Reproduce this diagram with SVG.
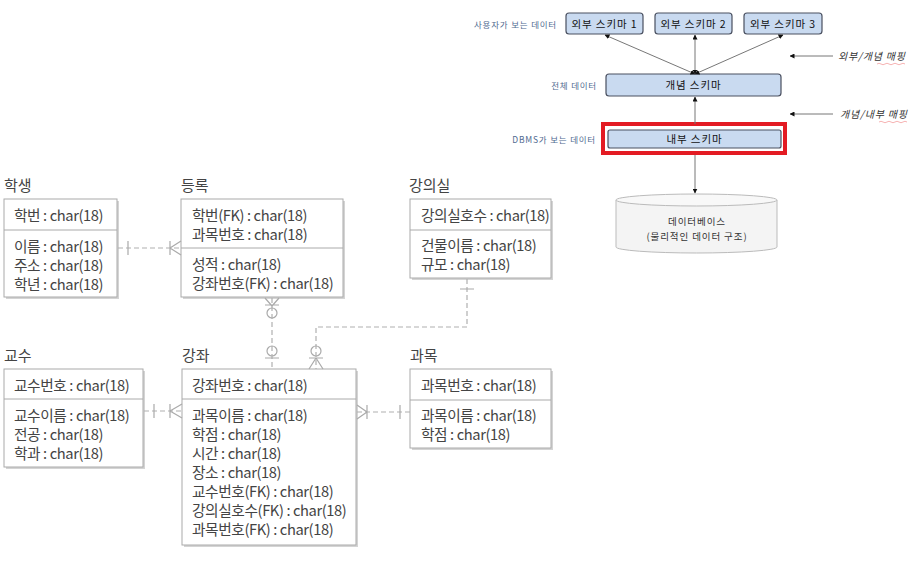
<svg xmlns="http://www.w3.org/2000/svg" width="921" height="562" viewBox="0 0 921 562">
<defs>
<marker id="ah" viewBox="0 0 10 10" refX="9" refY="5" markerWidth="5" markerHeight="5" orient="auto-start-reverse">
<path d="M0,0 L10,5 L0,10 z" fill="#111"/>
</marker>
<style>
.sbox{fill:#c9daf0;stroke:#4a5060;stroke-width:1.2}
.stxt{font-family:"Noto Sans CJK KR","Noto Sans",sans-serif;font-size:10.5px;font-weight:400;fill:#111;text-anchor:middle;letter-spacing:0.9px}
.lbl{font-family:"Noto Sans CJK KR","Noto Sans",sans-serif;font-size:8.5px;fill:#4f6a90;text-anchor:end;letter-spacing:0.8px}
.map{font-family:"Noto Sans CJK KR","Noto Sans",sans-serif;font-size:10px;fill:#333;font-style:italic;letter-spacing:0.8px}
.arr{stroke:#777;stroke-width:1;fill:none}
.ebox{fill:#fff;stroke:#aaa;stroke-width:1}
.shadow{fill:#d4d4d4}
.sep{stroke:#aaa;stroke-width:1}
.ttl{font-family:"Noto Sans CJK KR","Noto Sans",sans-serif;font-size:15px;fill:#444}
.at{font-family:"Noto Sans CJK KR","Noto Sans",sans-serif;font-size:14.7px;fill:#444;letter-spacing:-0.4px}
.rel{stroke:#b0b0b0;stroke-width:1.2;fill:none;stroke-dasharray:5 3}
.sym{stroke:#aaa;stroke-width:1.2;fill:none}
</style>
</defs>
<rect width="921" height="562" fill="#fff"/>

<!-- top schema diagram -->
<g id="ext1"><rect class="sbox" x="566" y="13" width="77" height="21" rx="3"/><text class="stxt" x="604.5" y="27.5">외부 스키마 1</text></g>
<g id="ext2"><rect class="sbox" x="655" y="13" width="77" height="21" rx="3"/><text class="stxt" x="693.5" y="27.5">외부 스키마 2</text></g>
<g id="ext3"><rect class="sbox" x="744" y="13" width="78" height="21" rx="3"/><text class="stxt" x="783" y="27.5">외부 스키마 3</text></g>
<g id="concept"><rect class="sbox" x="606" y="74" width="175" height="22" rx="3"/><text class="stxt" x="693.5" y="89">개념 스키마</text></g>
<g id="internal"><rect x="603" y="124" width="182" height="29" fill="none" stroke="#e31b23" stroke-width="4"/><rect class="sbox" x="608" y="130" width="173" height="18" rx="2"/><text class="stxt" x="694.5" y="143">내부 스키마</text></g>
<g id="db">
<path d="M616,200 L616,247 A80.5,6 0 0 0 777,247 L777,200" fill="#f4f4f4" stroke="#bbb" stroke-width="1"/>
<ellipse cx="696.5" cy="200" rx="80.5" ry="6" fill="#f8f8f8" stroke="#bbb" stroke-width="1"/>
<text class="stxt" x="697" y="225" style="font-size:9.5px;fill:#333">데이터베이스</text>
<text class="stxt" x="697" y="240" style="font-size:9.5px;fill:#333">(물리적인 데이터 구조)</text>
</g>
<g id="labels">
<text class="lbl" x="557" y="28">사용자가 보는 데이터</text>
<text class="lbl" x="597" y="89">전체 데이터</text>
<text class="lbl" x="596" y="143">DBMS가 보는 데이터</text>
<text class="map" x="838" y="60">외부/개념 매핑</text>
<text class="map" x="840" y="118">개념/내부 매핑</text>
<path d="M877,64 q2,-1.5 4,0 t4,0 t4,0 t4,0 t4,0 t4,0 t4,0" stroke="#f4a0a0" stroke-width="0.8" fill="none"/>
<path d="M879,122 q2,-1.5 4,0 t4,0 t4,0 t4,0 t4,0 t4,0 t4,0" stroke="#f4a0a0" stroke-width="0.8" fill="none"/>
</g>
<g id="schema-connectors">
<line class="arr" x1="695" y1="74" x2="605" y2="35" marker-start="url(#ah)" marker-end="url(#ah)"/>
<line class="arr" x1="695" y1="74" x2="695" y2="35" marker-start="url(#ah)" marker-end="url(#ah)"/>
<line class="arr" x1="695" y1="74" x2="783" y2="35" marker-start="url(#ah)" marker-end="url(#ah)"/>
<line class="arr" x1="695" y1="124" x2="695" y2="97" marker-end="url(#ah)"/>
<line class="arr" x1="695" y1="155" x2="695" y2="193" marker-end="url(#ah)"/>
<line class="arr" x1="833" y1="56" x2="790" y2="56" marker-end="url(#ah)"/>
<line class="arr" x1="833" y1="114" x2="790" y2="114" marker-end="url(#ah)"/>
</g>

<!-- ER diagram -->
<g id="student">
<text class="ttl" x="4" y="191">학생</text>
<rect class="shadow" x="6" y="201" width="113" height="98"/>
<rect class="ebox" x="4" y="199" width="113" height="98"/>
<line class="sep" x1="4" y1="230" x2="117" y2="230"/>
<text class="at" x="14" y="221">학번 : char(18)</text>
<text class="at" x="14" y="252">이름 : char(18)</text>
<text class="at" x="14" y="271">주소 : char(18)</text>
<text class="at" x="14" y="290">학년 : char(18)</text>
</g>
<g id="enroll">
<text class="ttl" x="181" y="191">등록</text>
<rect class="shadow" x="183" y="201" width="162" height="98"/>
<rect class="ebox" x="181" y="199" width="162" height="98"/>
<line class="sep" x1="181" y1="248" x2="343" y2="248"/>
<text class="at" x="192" y="221">학번(FK) : char(18)</text>
<text class="at" x="192" y="240">과목번호 : char(18)</text>
<text class="at" x="192" y="270">성적 : char(18)</text>
<text class="at" x="192" y="289">강좌번호(FK) : char(18)</text>
</g>
<g id="classroom">
<text class="ttl" x="409" y="191">강의실</text>
<rect class="shadow" x="412" y="201" width="141" height="79"/>
<rect class="ebox" x="410" y="199" width="141" height="79"/>
<line class="sep" x1="410" y1="230" x2="551" y2="230"/>
<text class="at" x="421" y="221">강의실호수 : char(18)</text>
<text class="at" x="421" y="251">건물이름 : char(18)</text>
<text class="at" x="421" y="270">규모 : char(18)</text>
</g>
<g id="professor">
<text class="ttl" x="4" y="361">교수</text>
<rect class="shadow" x="6" y="371" width="139" height="98"/>
<rect class="ebox" x="4" y="369" width="139" height="98"/>
<line class="sep" x1="4" y1="399" x2="143" y2="399"/>
<text class="at" x="14" y="391">교수번호 : char(18)</text>
<text class="at" x="14" y="421">교수이름 : char(18)</text>
<text class="at" x="14" y="440">전공 : char(18)</text>
<text class="at" x="14" y="459">학과 : char(18)</text>
</g>
<g id="course">
<text class="ttl" x="182" y="361">강좌</text>
<rect class="shadow" x="184" y="371" width="174" height="176"/>
<rect class="ebox" x="182" y="369" width="174" height="176"/>
<line class="sep" x1="182" y1="399" x2="356" y2="399"/>
<text class="at" x="192" y="391">강좌번호 : char(18)</text>
<text class="at" x="192" y="421">과목이름 : char(18)</text>
<text class="at" x="192" y="440">학점 : char(18)</text>
<text class="at" x="192" y="459">시간 : char(18)</text>
<text class="at" x="192" y="478">장소 : char(18)</text>
<text class="at" x="192" y="497">교수번호(FK) : char(18)</text>
<text class="at" x="192" y="516">강의실호수(FK) : char(18)</text>
<text class="at" x="192" y="535">과목번호(FK) : char(18)</text>
</g>
<g id="subject">
<text class="ttl" x="410" y="361">과목</text>
<rect class="shadow" x="412" y="371" width="141" height="79"/>
<rect class="ebox" x="410" y="369" width="141" height="79"/>
<line class="sep" x1="410" y1="400" x2="551" y2="400"/>
<text class="at" x="421" y="391">과목번호 : char(18)</text>
<text class="at" x="421" y="421">과목이름 : char(18)</text>
<text class="at" x="421" y="440">학점 : char(18)</text>
</g>
<g id="er-connectors">
<line class="rel" x1="118" y1="248" x2="181" y2="248"/>
<path class="sym" d="M128,241 V255 M170,241 V255 M170,248 L181,241 M170,248 L181,255"/>
<line class="rel" x1="144" y1="411" x2="182" y2="411"/>
<path class="sym" d="M154,404 V418 M170,404 V418 M170,411 L182,404 M170,411 L182,418"/>
<line class="rel" x1="357" y1="412" x2="410" y2="412"/>
<path class="sym" d="M367,405 V419 M367,412 L357,405 M367,412 L357,419 M400,405 V419"/>
<line class="rel" x1="272" y1="298" x2="272" y2="369"/>
<path class="sym" d="M272,306 L265,298 M272,306 L279,298 M265,305 H279 M265,358 H279"/>
<circle class="sym" cx="272" cy="313" r="5" fill="#fff"/>
<circle class="sym" cx="272" cy="351" r="5" fill="#fff"/>
<path class="rel" d="M467,279 V327 H316 V369"/>
<path class="sym" d="M460,289 H474 M316,358 L309,369 M316,358 L323,369 M309,358 H323"/>
<circle class="sym" cx="316" cy="351" r="5" fill="#fff"/>
</g>
</svg>
